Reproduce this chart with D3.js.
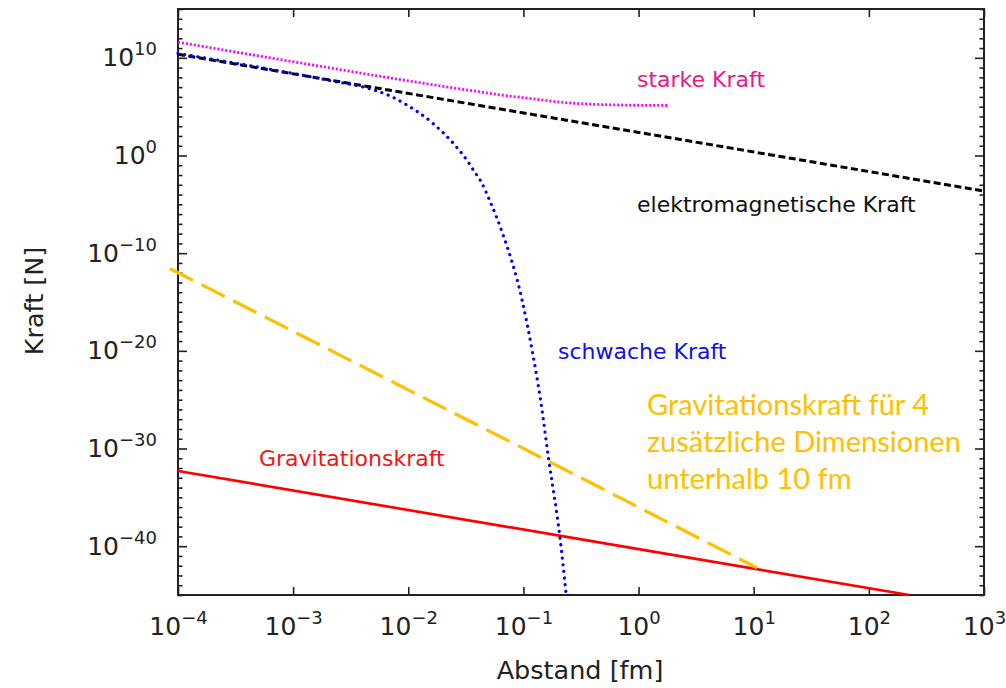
<!DOCTYPE html>
<html>
<head>
<meta charset="utf-8">
<script src="https://cdn.jsdelivr.net/npm/d3@7"></script>
<style>
  html, body { margin: 0; padding: 0; background: #fff; }
  svg { display: block; }
</style>
</head>
<body>
<svg id="chart" width="1006" height="688"></svg>
<script>
// ---------------- data ----------------
const xTickValues = [1e-4, 1e-3, 1e-2, 1e-1, 1e0, 1e1, 1e2, 1e3];
const xTickExps   = ["−4", "−3", "−2", "−1", "0", "1", "2", "3"];
const yTickValues = [1e-40, 1e-30, 1e-20, 1e-10, 1e0, 1e10];
const yTickExps   = ["−40", "−30", "−20", "−10", "0", "10"];

// distance [fm] and force [N]
const emR = [1e-4, 1e0, 1e3];
const emF = [2.3e10, 2.3e2, 2.3e-4];

const strongR = [1e-4, 1e-3, 8.5e-3, 3.2e-2, 6.3e-2, 0.123, 0.24, 0.47, 0.91, 1.78];
const strongF = [4.0e11, 4.0e9, 6.0e7, 5.2e6, 1.6e6, 6.3e5, 2.5e5, 1.66e5, 1.41e5, 1.32e5];

const weakR = [1e-4, 1e-3, 2.24e-3, 4.37e-3, 6.97e-3, 9.1e-3, 1.66e-2, 2.48e-2, 3.24e-2,
               3.83e-2, 4.23e-2, 5.09e-2, 6.53e-2, 9.75e-2, 0.119, 0.141, 0.166, 0.207, 0.235];
const weakF = [2.8e10, 2.5e8, 4.0e7, 8.1e6, 1.23e6, 2.35e5, 1.66e3, 15.8, 0.31,
               1.55e-2, 2.75e-3, 2.5e-5, 1.4e-8, 1.45e-15, 1.1e-20, 8.3e-26, 6.3e-32, 1e-39, 1e-45];

const gravR = [1e-4, 1e0, 2.24e2];
const gravF = [5.0e-33, 5.0e-41, 1e-45];

const grav4dR = [8.5e-5, 1e-4, 0.166, 10.7];
const grav4dF = [2.6e-12, 1e-12, 4.8e-32, 6.0e-43];

// ---------------- layout ----------------
const svg = d3.select("#chart");
const X0 = 178, X1 = 984, Y0 = 9, Y1 = 595;
const x = d3.scaleLog().domain([1e-4, 1e3]).range([X0, X1]);
const y = d3.scaleLog().domain([1e-45, 1e15]).range([Y1, Y0]);
const FONT = "'DejaVu Sans', sans-serif";
const minorY = d3.range(-45, 16).map(e => Math.pow(10, e)).filter(v => !yTickValues.includes(v));

// ---------------- axes ----------------
function styleAxis(g) {
  g.select(".domain").remove();
  g.selectAll(".tick line").attr("stroke", "#222").attr("stroke-width", 1.6);
}
function supLabels(g, exps, anchor, xOff, yOff) {
  g.selectAll(".tick text").each(function(d, i) {
    const t = d3.select(this);
    t.text(null).attr("dy", null).attr("x", xOff).attr("y", yOff)
      .attr("text-anchor", anchor).attr("font-family", FONT).attr("font-size", 25).attr("fill", "#222");
    t.append("tspan").text("10");
    t.append("tspan").attr("dy", -11).attr("font-size", 18).text(exps[i]);
  });
}

// bottom
svg.append("g").attr("transform", `translate(0,${Y1})`)
  .call(d3.axisBottom(x).tickValues(xTickValues).tickSizeInner(-8).tickSizeOuter(0))
  .call(styleAxis)
  .call(g => supLabels(g, xTickExps, "middle", 0, 40));
// top
svg.append("g").attr("transform", `translate(0,${Y0})`)
  .call(d3.axisTop(x).tickValues(xTickValues).tickSizeInner(-8).tickSizeOuter(0).tickFormat(""))
  .call(styleAxis);
// left major
svg.append("g").attr("transform", `translate(${X0},0)`)
  .call(d3.axisLeft(y).tickValues(yTickValues).tickSizeInner(-9).tickSizeOuter(0))
  .call(styleAxis)
  .call(g => supLabels(g, yTickExps, "end", -21, 8));
// left minor
svg.append("g").attr("transform", `translate(${X0},0)`)
  .call(d3.axisLeft(y).tickValues(minorY).tickSizeInner(-4.5).tickSizeOuter(0).tickFormat(""))
  .call(styleAxis);
// right major + minor
svg.append("g").attr("transform", `translate(${X1},0)`)
  .call(d3.axisRight(y).tickValues(yTickValues).tickSizeInner(-9).tickSizeOuter(0).tickFormat(""))
  .call(styleAxis);
svg.append("g").attr("transform", `translate(${X1},0)`)
  .call(d3.axisRight(y).tickValues(minorY).tickSizeInner(-4.5).tickSizeOuter(0).tickFormat(""))
  .call(styleAxis);

// frame
svg.append("rect").attr("x", X0).attr("y", Y0).attr("width", X1 - X0).attr("height", Y1 - Y0)
  .attr("fill", "none").attr("stroke", "#222").attr("stroke-width", 2);

// axis titles
svg.append("text").attr("x", 580).attr("y", 679).attr("text-anchor", "middle")
  .attr("font-family", FONT).attr("font-size", 25.5).attr("fill", "#222").text("Abstand [fm]");
svg.append("text").attr("transform", "translate(43,301) rotate(-90)").attr("text-anchor", "middle")
  .attr("font-family", FONT).attr("font-size", 25.5).attr("fill", "#222").text("Kraft [N]");

// ---------------- curves ----------------
function zip(rs, fs) { return rs.map((r, i) => [r, fs[i]]); }
const line = d3.line().x(d => x(d[0])).y(d => y(d[1])).curve(d3.curveMonotoneX);
const straight = d3.line().x(d => x(d[0])).y(d => y(d[1]));

svg.append("path").attr("d", straight(zip(gravR, gravF)))
  .attr("fill", "none").attr("stroke", "#ff0000").attr("stroke-width", 2.7);
svg.append("path").attr("d", straight(zip(grav4dR, grav4dF)))
  .attr("fill", "none").attr("stroke", "#ffc000").attr("stroke-width", 3.2)
  .attr("stroke-dasharray", "26 9.5");
svg.append("path").attr("d", straight(zip(emR, emF)))
  .attr("fill", "none").attr("stroke", "#000").attr("stroke-width", 3)
  .attr("stroke-dasharray", "7 3.5");
svg.append("path").attr("d", line(zip(strongR, strongF)))
  .attr("fill", "none").attr("stroke", "#ff00ff").attr("stroke-width", 2.8)
  .attr("stroke-dasharray", "2 2");
svg.append("path").attr("d", line(zip(weakR, weakF)))
  .attr("fill", "none").attr("stroke", "#0000ff").attr("stroke-width", 3.2)
  .attr("stroke-linecap", "round").attr("stroke-dasharray", "0.1 6.6");

// ---------------- labels ----------------
const labels = [
  { text: "starke Kraft", x: 637, y: 87, color: "#ea168c" },
  { text: "elektromagnetische Kraft", x: 637, y: 212, color: "#111" },
  { text: "schwache Kraft", x: 558, y: 359, color: "#1010e8" },
  { text: "Gravitationskraft", x: 259, y: 466, color: "#f51414" }
];
svg.selectAll("text.lbl").data(labels).enter().append("text").attr("class", "lbl")
  .attr("x", d => d.x).attr("y", d => d.y).attr("fill", d => d.color)
  .attr("font-family", FONT).attr("font-size", 22).text(d => d.text);

const extraLines = ["Gravitationskraft für 4", "zusätzliche Dimensionen", "unterhalb 10 fm"];
svg.selectAll("text.extra").data(extraLines).enter().append("text").attr("class", "extra")
  .attr("x", 647).attr("y", (d, i) => 415 + i * 37)
  .attr("fill", "#ffc000").attr("font-family", "Lato, 'Open Sans', sans-serif")
  .attr("font-size", 29).text(d => d);
</script>
</body>
</html>
